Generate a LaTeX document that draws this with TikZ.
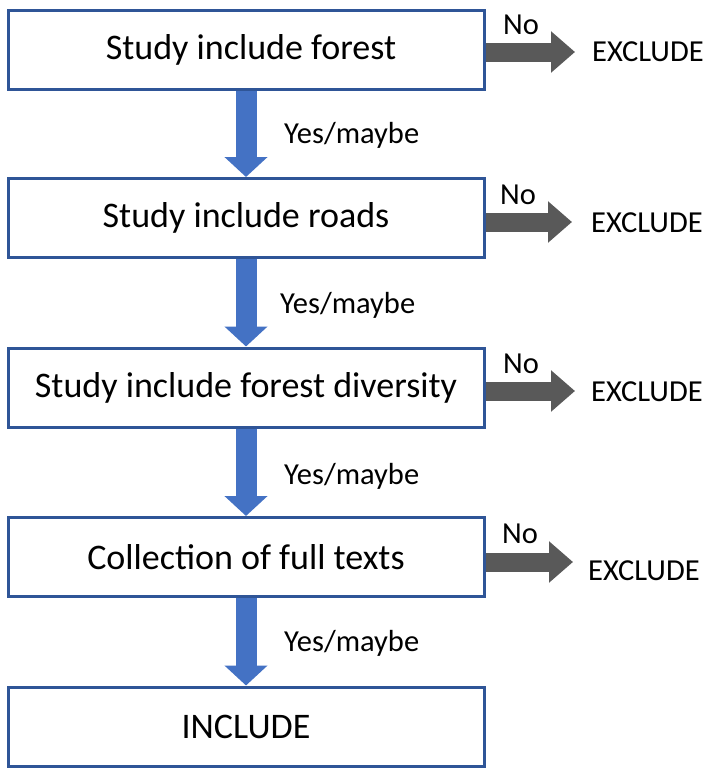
\documentclass[tikz,border=0pt]{standalone}
\usepackage{fontspec}
\setmainfont{Carlito}
\usetikzlibrary{arrows.meta}
\definecolor{boxblue}{HTML}{2F5597}
\definecolor{arrblue}{HTML}{4472C4}
\definecolor{arrgray}{HTML}{595959}
\tikzset{
  stagebox/.style={draw=boxblue, line width=3pt, fill=white, minimum width=476pt, minimum height=79pt, inner sep=0pt, font=\fontsize{36}{40}\selectfont},
  lbl/.style={inner sep=0pt, font=\fontsize{30.5}{34}\selectfont},
  yesarrow/.style={draw=arrblue, line width=21pt, -{Triangle[width=42pt,length=20pt]}},
  noarrow/.style={draw=arrgray, line width=19pt, -{Triangle[width=40pt,length=24pt]}}
}
\begin{document}
\begin{tikzpicture}[x=1pt,y=-1pt]
\useasboundingbox (0,0) rectangle (710,769);
\node[stagebox] (b1) at (246,50) {\raisebox{-3pt}{\hspace*{10pt}Study include forest}};
\node[stagebox] (b2) at (246,218) {\raisebox{-3pt}{Study include roads}};
\node[stagebox] (b3) at (246,387.5) {\raisebox{-3pt}{Study include forest diversity}};
\node[stagebox] (b4) at (246,557) {\raisebox{-3pt}{Collection of full texts}};
\node[stagebox] (b5) at (246,726.5) {\raisebox{-3pt}{INCLUDE}};
\node[lbl,anchor=west] (e1) at (592,52) {EXCLUDE};
\node[lbl,anchor=west] (e2) at (591,223) {EXCLUDE};
\node[lbl,anchor=west] (e3) at (591,392) {EXCLUDE};
\node[lbl,anchor=west] (e4) at (588,571) {EXCLUDE};
\coordinate (t1) at (575,52);
\coordinate (t2) at (572,222);
\coordinate (t3) at (575,391);
\coordinate (t4) at (573,562);
\draw[noarrow] (b1.east |- t1) -- (t1);
\draw[noarrow] (b2.east |- t2) -- (t2);
\draw[noarrow] (b3.east |- t3) -- (t3);
\draw[noarrow] (b4.east |- t4) -- (t4);
\node[lbl] (n1) at (521,25) {No};
\node[lbl] (n2) at (518,195) {No};
\node[lbl] (n3) at (521,364) {No};
\node[lbl] (n4) at (520,534) {No};
\draw[yesarrow] (b1.south) -- (b2.north);
\draw[yesarrow] (b2.south) -- (b3.north);
\draw[yesarrow] (b3.south) -- (b4.north);
\draw[yesarrow] (b4.south) -- (b5.north);
\node[lbl,anchor=west] (y1) at (284,135) {Yes/maybe};
\node[lbl,anchor=west] (y2) at (280,305) {Yes/maybe};
\node[lbl,anchor=west] (y3) at (284,476) {Yes/maybe};
\node[lbl,anchor=west] (y4) at (284,643) {Yes/maybe};
\end{tikzpicture}
\end{document}
